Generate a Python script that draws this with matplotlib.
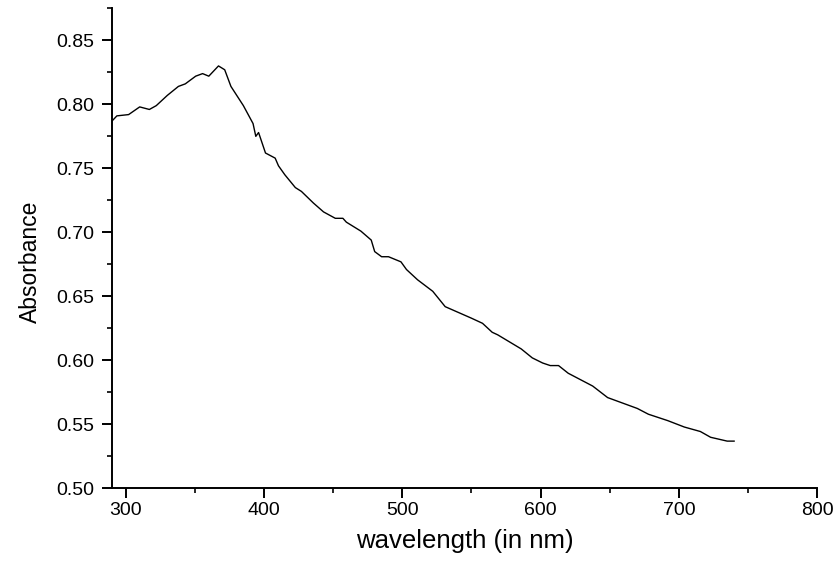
import matplotlib
matplotlib.use('Agg')
import matplotlib.pyplot as plt
from matplotlib.ticker import MultipleLocator

# wavelength (nm) and absorbance
wavelength = [290, 293.5, 302, 310, 317, 322, 330, 338, 343, 350.5, 355.5, 360,
              367, 371.5, 376, 385, 392, 394, 396, 401, 408, 410.4, 415, 422.6,
              427, 435.6, 443, 451.5, 457, 459.5, 470, 477.5, 480, 485, 490, 499,
              503, 511, 522, 531, 550, 558, 565, 569, 586, 594, 601.5, 607, 613,
              620, 637.7, 648.5, 670, 678, 692, 704, 715.6, 723, 735, 740]
absorbance = [0.787, 0.791, 0.792, 0.798, 0.796, 0.799, 0.807, 0.814, 0.816, 0.822,
              0.824, 0.822, 0.830, 0.827, 0.814, 0.799, 0.785, 0.775, 0.778, 0.762,
              0.758, 0.752, 0.745, 0.735, 0.732, 0.723, 0.716, 0.711, 0.711, 0.708,
              0.701, 0.694, 0.685, 0.681, 0.681, 0.677, 0.671, 0.663, 0.654, 0.642,
              0.633, 0.629, 0.622, 0.620, 0.609, 0.602, 0.598, 0.596, 0.596, 0.590,
              0.580, 0.571, 0.5625, 0.558, 0.553, 0.548, 0.5445, 0.540, 0.537, 0.537]

plt.rcParams['font.family'] = ['Liberation Sans', 'DejaVu Sans']

fig = plt.figure(figsize=(8.38, 5.65), dpi=100)
ax = fig.add_axes([0.1337, 0.1354, 0.8413, 0.8499])
ax.plot(wavelength, absorbance, color='black', linewidth=1.0)

ax.set_xlim(290, 800)
ax.set_ylim(0.5, 0.875)
ax.xaxis.set_major_locator(MultipleLocator(100))
ax.xaxis.set_minor_locator(MultipleLocator(50))
ax.yaxis.set_major_locator(MultipleLocator(0.05))
ax.yaxis.set_minor_locator(MultipleLocator(0.025))
ax.yaxis.set_major_formatter(plt.FormatStrFormatter('%.2f'))

for s in ['top', 'right']:
    ax.spines[s].set_visible(False)
for s in ['left', 'bottom']:
    ax.spines[s].set_linewidth(1.4)

ax.tick_params(which='major', direction='out', length=7, width=1.4, labelsize=14)
ax.tick_params(which='minor', direction='out', length=3.5, width=1.2)
ax.tick_params(axis='y', which='major', pad=6)
ax.tick_params(axis='x', which='major', pad=2.5)

ax.set_xlabel('wavelength (in nm)', fontsize=18.5)
ax.set_ylabel('Absorbance', fontsize=16.5)
ax.xaxis.set_label_coords(0.5, -0.085)
ax.yaxis.set_label_coords(-0.10, 0.472)

fig.savefig('out.png', dpi=100)
